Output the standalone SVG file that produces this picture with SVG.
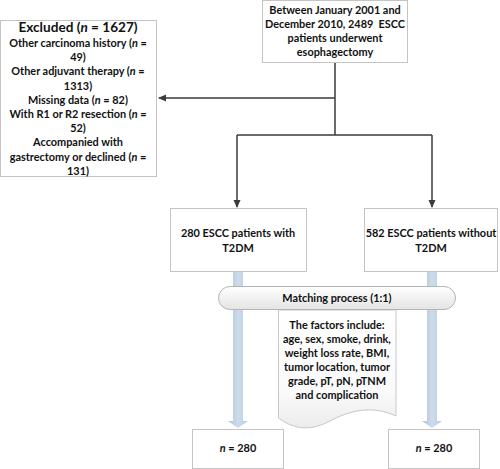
<svg xmlns="http://www.w3.org/2000/svg" width="500" height="469" viewBox="0 0 500 469">
<defs>
<style>
.box{fill:#fff;stroke:#c4c4c4;stroke-width:1}
.t{font-family:Lato,"Liberation Sans",sans-serif;font-weight:bold;font-size:10.9px;fill:#111;text-anchor:middle}
.big{font-size:13.6px}
.ln{fill:none;stroke:#3a3a3a;stroke-width:1.5}
</style>
<marker id="ah" markerWidth="8" markerHeight="8" refX="7" refY="4" orient="auto" markerUnits="userSpaceOnUse">
<path d="M0,0.5 L8,4 L0,7.5 Z" fill="#3a3a3a"/>
</marker>
<linearGradient id="blue" x1="0" y1="0" x2="1" y2="0">
<stop offset="0" stop-color="#a9c3d9"/>
<stop offset="0.5" stop-color="#cddceb"/>
<stop offset="1" stop-color="#b7cde0"/>
</linearGradient>
<linearGradient id="gray" x1="0" y1="0" x2="0" y2="1">
<stop offset="0" stop-color="#ffffff"/>
<stop offset="1" stop-color="#e4e4e4"/>
</linearGradient>
<linearGradient id="doc" x1="0" y1="0" x2="0" y2="1">
<stop offset="0" stop-color="#ffffff"/>
<stop offset="0.7" stop-color="#fafafa"/>
<stop offset="1" stop-color="#ececec"/>
</linearGradient>
</defs>

<g id="connectors">
<path class="ln" d="M335,63 V135"/>
<path class="ln" d="M335,98 H159" marker-end="url(#ah)"/>
<path class="ln" d="M237,135 H432"/>
<path class="ln" d="M237,135 V207" marker-end="url(#ah)"/>
<path class="ln" d="M432,135 V207" marker-end="url(#ah)"/>
<path d="M233,272 H243 V421 H248 L238,428 L228,421 H233 Z" fill="url(#blue)"/>
<path d="M427,272 H437 V421 H442 L432,428 L422,421 H427 Z" fill="url(#blue)"/>
</g>

<g id="excluded">
<rect class="box" x="0.5" y="20.5" width="156" height="156"/>
<text class="t big" x="78" y="32">Excluded (<tspan font-style="italic">n</tspan> = 1627)</text>
<text class="t" x="78" y="47">Other carcinoma history (<tspan font-style="italic">n</tspan> =</text>
<text class="t" x="78" y="61.2">49)</text>
<text class="t" x="78" y="75.4">Other adjuvant therapy (<tspan font-style="italic">n</tspan> =</text>
<text class="t" x="78" y="89.6">1313)</text>
<text class="t" x="78" y="103.8">Missing data (<tspan font-style="italic">n</tspan> = 82)</text>
<text class="t" x="78" y="118">With R1 or R2 resection (<tspan font-style="italic">n</tspan> =</text>
<text class="t" x="78" y="132.2">52)</text>
<text class="t" x="78" y="146.4">Accompanied with</text>
<text class="t" x="78" y="160.6">gastrectomy or declined (<tspan font-style="italic">n</tspan> =</text>
<text class="t" x="78" y="174.8">131)</text>
</g>

<g id="start">
<rect class="box" x="262.5" y="0.5" width="145" height="62"/>
<text class="t" x="335" y="14">Between January 2001 and</text>
<text class="t" x="335" y="28">December 2010, 2489&#160; ESCC</text>
<text class="t" x="335" y="42">patients underwent</text>
<text class="t" x="335" y="56">esophagectomy</text>
</g>

<g id="t2dm">
<rect class="box" x="170.5" y="208.5" width="136" height="63"/>
<text class="t" x="238" y="237">280 ESCC patients with</text>
<text class="t" x="238" y="252">T2DM</text>
</g>

<g id="nont2dm">
<rect class="box" x="364.5" y="208.5" width="133" height="63"/>
<text class="t" x="431" y="237">582 ESCC patients without</text>
<text class="t" x="431" y="252">T2DM</text>
</g>

<g id="factors">
<path d="M278.5,310 H396 V416 C372,405 350,410 328,422 C308,432 292,428 278.5,418 Z" fill="url(#doc)" stroke="#c8c8c8" stroke-width="1"/>
<text class="t" x="337" y="329">The factors include:</text>
<text class="t" x="337" y="343">age, sex, smoke, drink,</text>
<text class="t" x="337" y="357">weight loss rate, BMI,</text>
<text class="t" x="337" y="371">tumor location, tumor</text>
<text class="t" x="337" y="385">grade, pT, pN, pTNM</text>
<text class="t" x="337" y="399">and complication</text>
</g>

<g id="matching">
<rect x="218.5" y="286.5" width="237" height="23" rx="11.5" fill="url(#gray)" stroke="#b4b4b4" stroke-width="1"/>
<text class="t" x="337" y="302">Matching process (1:1)</text>
</g>

<g id="n1">
<rect class="box" x="192.5" y="429.5" width="91" height="39"/>
<text class="t" x="238" y="452"><tspan font-style="italic">n</tspan> = 280</text>
</g>

<g id="n2">
<rect class="box" x="388.5" y="429.5" width="91" height="39"/>
<text class="t" x="434" y="452"><tspan font-style="italic">n</tspan> = 280</text>
</g>
</svg>
